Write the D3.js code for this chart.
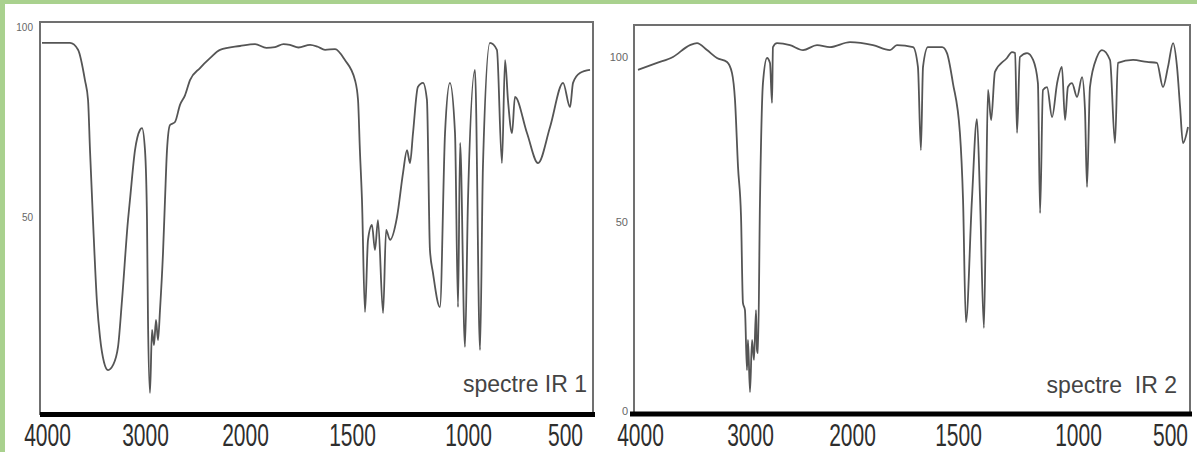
<!DOCTYPE html>
<html><head><meta charset="utf-8">
<script src="https://cdn.jsdelivr.net/npm/d3@7"></script>
<style>html,body{margin:0;padding:0;background:#fff;} svg{display:block;}</style>
</head><body>
<svg id="chart" width="1197" height="452"></svg>
<script>
// ---- data (wavenumber cm-1, transmittance %) ----
const xTickLabels = [4000, 3000, 2000, 1500, 1000, 500];
const yTicks1 = [100, 50];
const yTicks2 = [100, 50, 0];
const titles = ["spectre IR 1", "spectre  IR 2"];

const ir1 = [
  [4000,95.8],[3728,95.8],[3650,94],[3583,86],[3553,80.8],[3534,67.6],[3505,49.2],[3466,27.4],[3437,18.4],
  [3398,11.8],[3359,9.7],[3311,11],[3262,15.8],[3223,28.2],[3165,49.2],[3146,54.5],[3097,67.6],[3049,72.9],
  [3029,73.4],[3000,67.6],[2980,49.2],[2970,22.9],[2950,3.7],[2930,20.3],[2910,16.3],[2890,22.9],[2870,17.6],
  [2850,25.5],[2820,40.5],[2800,54.5],[2780,67.6],[2750,74.2],[2700,75],[2650,79.5],[2600,82],[2550,86],
  [2450,89.2],[2350,91.8],[2250,94],[2050,95],[1953,95.5],[1900,94.5],[1860,94.7],[1820,95.5],[1790,95.3],
  [1750,94.6],[1696,95.3],[1660,94.8],[1626,94],[1579,94.2],[1533,91.3],[1487,86],[1474,80.8],[1466,67.6],
  [1457,54.5],[1444,25],[1431,44],[1414,47.9],[1401,41.3],[1388,49.2],[1366,24.7],[1353,46.6],[1336,44],
  [1306,50],[1280,61.6],[1263,67.6],[1250,64.2],[1237,72.1],[1216,84.2],[1194,85.3],[1177,80.8],[1164,41.3],
  [1151,35.3],[1121,26.3],[1099,72.1],[1078,85.3],[1056,72.1],[1043,26.3],[1034,69.5],[1013,15.8],[1000,54.5],
  [964,88.7],[938,15],[923,63.2],[887,95.8],[851,94],[825,64.2],[809,91.3],[794,80.8],[773,72.1],[758,81.6],
  [696,72.1],[639,64.2],[577,73.7],[510,85.3],[473,78.9],[457,85.3],[420,87.9],[366,88.7]
];

const ir2 = [
  [4000,96.1],[3830,98.2],[3688,100],[3536,103.6],[3473,104.2],[3384,102.1],[3295,99.7],[3205,98.5],[3161,95.2],
  [3134,87],[3107,66.7],[3080,51.5],[3063,28.6],[3045,26.7],[3027,10.8],[3018,18.8],[3000,5],[2980,18.8],
  [2961,13.5],[2941,26.7],[2931,16.1],[2922,15.3],[2902,56.7],[2873,92.1],[2833,99.7],[2804,98.2],[2784,86.1],
  [2775,103],[2735,104.2],[2608,103.6],[2480,102.1],[2343,103.6],[2216,103],[2020,104.5],[1901,103.6],
  [1821,102.1],[1788,103.6],[1712,103],[1689,97],[1675,71.8],[1665,97],[1642,103],[1575,103],[1552,101.2],
  [1524,92.1],[1492,77],[1479,56.7],[1467,23.5],[1442,56.7],[1421,81.2],[1408,56.7],[1392,22],[1383,56.7],
  [1375,90],[1362,80.9],[1346,95.5],[1296,99.7],[1275,101.5],[1262,101.2],[1254,77],[1242,100],[1212,101.2],
  [1187,99.1],[1167,92.1],[1158,52.7],[1146,90],[1129,90.9],[1108,81.8],[1087,92.1],[1067,97],[1054,80.9],
  [1042,90.9],[1025,92.1],[1004,87.9],[978,93.9],[962,83.9],[951,60.6],[935,90.9],[897,100],[870,102.1],
  [826,99.1],[799,73.9],[783,98.2],[701,99.1],[625,98.5],[571,98.2],[538,90.9],[511,97],[483,104.2],
  [461,97],[444,84.8],[428,73.9],[400,78.8]
];

// ---- layout ----
const svg = d3.select("#chart");
svg.append("rect").attr("width", 1197).attr("height", 452).attr("fill", "#fff");
svg.append("rect").attr("x", 0).attr("y", 0).attr("width", 1197).attr("height", 4).attr("fill", "#a9d18e");
svg.append("rect").attr("x", 0).attr("y", 0).attr("width", 5).attr("height", 452).attr("fill", "#a9d18e");

const panels = [
  { data: ir1, yTicks: yTicks1, title: titles[0],
    box: {x: 40, y: 22, w: 553, h: 392},
    xDomain: [4000, 3000, 2000, 1500, 1000, 500, 350], xRange: [42, 145, 245, 352, 468, 565, 593],
    yDomain: [0, 100], yRange: [407, 27],
    axisY: 414.5, axisX: [40, 595], yLabelX: 33, yLabelSize: 10,
    titleX: 587, titleY: 392, firstDx: 5 },
  { data: ir2, yTicks: yTicks2, title: titles[1],
    box: {x: 634, y: 25, w: 556, h: 388},
    xDomain: [4000, 3000, 2000, 1500, 1000, 500, 400], xRange: [638, 750, 852, 958, 1078, 1170, 1188],
    yDomain: [0, 50, 100], yRange: [411, 222, 57],
    axisY: 414, axisX: [630, 1192], yLabelX: 628, yLabelSize: 11,
    titleX: 1177, titleY: 393, firstDx: 2 }
];

panels.forEach(p => {
  const x = d3.scaleLinear().domain(p.xDomain).range(p.xRange);
  const y = d3.scaleLinear().domain(p.yDomain).range(p.yRange);
  const g = svg.append("g");

  g.append("rect").attr("x", p.box.x).attr("y", p.box.y).attr("width", p.box.w).attr("height", p.box.h)
    .attr("fill", "none").attr("stroke", "#707070").attr("stroke-width", 2);

  const line = d3.line().x(d => x(d[0])).y(d => y(d[1])).curve(d3.curveMonotoneX);
  g.append("path").datum(p.data).attr("d", line)
    .attr("fill", "none").attr("stroke", "#555").attr("stroke-width", 1.8).attr("stroke-linejoin", "round");

  const ax = d3.axisBottom(x).tickValues(xTickLabels).tickSize(0).tickSizeOuter(0).tickFormat(d3.format("d"));
  const axg = g.append("g").attr("transform", `translate(0,${p.axisY})`).call(ax);
  axg.select(".domain").remove();
  axg.append("line").attr("x1", p.axisX[0]).attr("x2", p.axisX[1]).attr("y1", 0).attr("y2", 0)
    .attr("stroke", "#000").attr("stroke-width", 5);
  axg.selectAll(".tick text")
    .attr("y", 0).attr("dy", 0)
    .attr("font-family", "Liberation Sans, Arial, sans-serif").attr("font-size", 21)
    .attr("fill", "#2e2e2e")
    .attr("transform", (d, i) => `translate(${i === 0 ? p.firstDx : 0},31.5) scale(1,1.45)`);

  g.selectAll(".ylab").data(p.yTicks).enter().append("text")
    .attr("x", p.yLabelX).attr("y", d => y(d)).attr("dy", "0.35em")
    .attr("text-anchor", "end").attr("font-family", "Liberation Sans, Arial, sans-serif")
    .attr("font-size", p.yLabelSize).attr("fill", "#666").text(d => d);

  g.append("text").attr("x", p.titleX).attr("y", p.titleY).attr("text-anchor", "end")
    .attr("font-family", "Liberation Sans, Arial, sans-serif").attr("font-size", 23)
    .attr("fill", "#444").style("white-space", "pre").attr("xml:space", "preserve").text(p.title);
});
</script>
</body></html>
